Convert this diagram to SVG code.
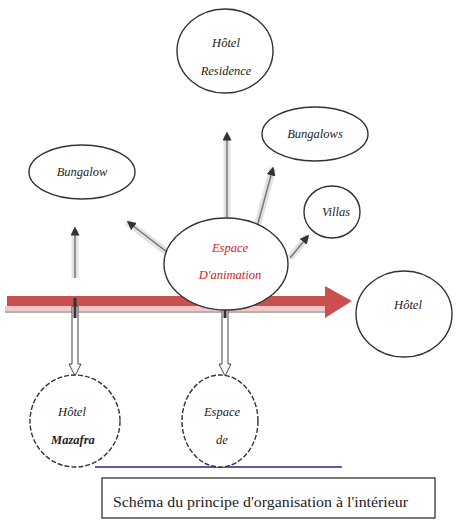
<svg xmlns="http://www.w3.org/2000/svg" width="457" height="525" viewBox="0 0 457 525">
<style>
.n{fill:#fff;stroke:#333;stroke-width:1.4}
.d{fill:#fff;stroke:#333;stroke-width:1.4;stroke-dasharray:5 2}
.t{font-family:'Liberation Serif','DejaVu Serif',serif;font-style:italic;font-size:12.5px;fill:#222;text-anchor:middle}
.rt{fill:#d02020}
.g{stroke:#e2e2e2;stroke-width:7;fill:none}
.k{stroke:#777;stroke-width:1.5;fill:none;marker-end:url(#ah)}
.w{fill:#fff;stroke:#444;stroke-width:1}
</style>
<defs>
<marker id="ah" markerWidth="6" markerHeight="6" refX="5" refY="3" orient="auto" markerUnits="strokeWidth">
<path d="M0,0 L6,3 L0,6 z" fill="#333"/>
</marker>
</defs>
<rect width="457" height="525" fill="#fff"/>
<g id="connectors">
<path class="g" d="M75,278 L75,230"/><path class="k" d="M75,278 L75,228"/>
<path class="g" d="M180,262 L127,222"/><path class="k" d="M180,262 L128,222"/>
<path class="g" d="M227,220 L227,135"/><path class="k" d="M227,220 L227,133"/>
<path class="g" d="M257,227 L273,168"/><path class="k" d="M257,227 L273,168"/>
<path class="g" d="M290,258 L308,236"/><path class="k" d="M290,258 L308,236"/>
<rect x="5" y="306" width="320" height="5" fill="#f4c7c7"/>
<line x1="5" y1="312" x2="325" y2="312" stroke="#999" stroke-width="1.5"/>
<path d="M7,296 L325,296 L325,286 L352,301 L325,318 L325,306 L7,306 z" fill="#c9504f"/>
<path class="w" d="M72,306 L78,306 L78,364 L81,364 L75,376 L69,364 L72,364 z"/>
<path class="w" d="M222,306 L228,306 L228,364 L231,364 L225,376 L219,364 L222,364 z"/>
<line x1="75" y1="298" x2="75" y2="318" stroke="#333" stroke-width="3"/>
<line x1="225" y1="298" x2="225" y2="318" stroke="#333" stroke-width="3"/>
<line x1="95" y1="467" x2="342" y2="467" stroke="#5a5aa8" stroke-width="2"/>
</g>
<g id="hotel-residence"><ellipse class="n" cx="225" cy="51" rx="48" ry="42"/><text class="t" x="226" y="47">Hôtel</text><text class="t" x="226" y="75">Residence</text></g>
<g id="bungalow"><ellipse class="n" cx="82" cy="172" rx="53" ry="27"/><text class="t" x="82" y="176">Bungalow</text></g>
<g id="bungalows"><ellipse class="n" cx="315" cy="134" rx="53" ry="27"/><text class="t" x="315" y="138">Bungalows</text></g>
<g id="villas"><ellipse class="n" cx="332" cy="212" rx="28" ry="26"/><text class="t" x="336" y="216">Villas</text></g>
<g id="espace-animation"><ellipse class="n" cx="226" cy="264" rx="62" ry="46"/><text class="t rt" x="230" y="252">Espace</text><text class="t rt" x="230" y="279">D'animation</text></g>
<g id="hotel"><ellipse class="n" cx="404" cy="314" rx="48" ry="43"/><text class="t" x="408" y="309">Hôtel</text></g>
<g id="hotel-mazafra"><ellipse class="d" cx="75" cy="421" rx="45" ry="46"/><text class="t" x="72" y="416">Hôtel</text><text class="t" x="73" y="444" font-weight="bold">Mazafra</text></g>
<g id="espace-de"><ellipse class="d" cx="220" cy="421" rx="38" ry="46"/><text class="t" x="222" y="416">Espace</text><text class="t" x="222" y="444">de</text></g>
<g id="caption"><rect x="102" y="478" width="333" height="40" fill="#fff" stroke="#333" stroke-width="1.3"/><text x="113" y="507" font-family="'Liberation Serif',serif" font-size="15" textLength="295" lengthAdjust="spacingAndGlyphs" fill="#222">Schéma du principe d'organisation à l'intérieur</text></g>
</svg>
